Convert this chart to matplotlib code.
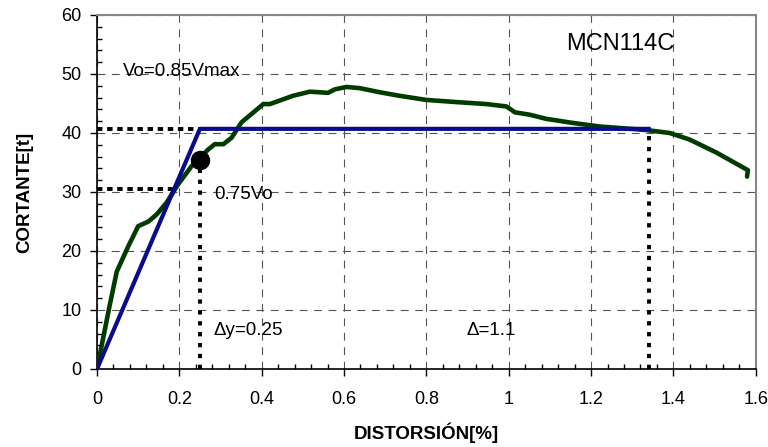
"""
Curva cortante - distorsion MCN114C
"""

import numpy as np
import matplotlib.pyplot as plt
from matplotlib.ticker import MultipleLocator

plt.rcParams['font.family'] = ['Liberation Sans', 'DejaVu Sans']

# curva experimental (envolvente)
dist = [0.0, 0.01, 0.03, 0.048, 0.076, 0.100, 0.125, 0.145, 0.169, 0.197,
        0.230, 0.270, 0.286, 0.307, 0.327, 0.351, 0.375, 0.404, 0.420, 0.444,
        0.476, 0.517, 0.541, 0.561, 0.578, 0.606, 0.638, 0.687, 0.735, 0.800,
        0.881, 0.946, 0.994, 1.005, 1.015, 1.051, 1.091, 1.156, 1.221, 1.334,
        1.391, 1.439, 1.504, 1.581, 1.579]
cort = [0.0, 3.5, 10.5, 16.5, 20.8, 24.2, 25.0, 26.2, 28.2, 31.3,
        34.4, 37.2, 38.1, 38.1, 39.2, 41.8, 43.2, 44.9, 44.9, 45.5,
        46.3, 47.0, 46.9, 46.8, 47.4, 47.8, 47.6, 46.9, 46.3, 45.6,
        45.2, 44.9, 44.5, 44.0, 43.5, 43.1, 42.4, 41.7, 41.1, 40.5,
        40.0, 38.9, 36.7, 33.7, 32.6]

# modelo bilineal
bil_x = [0.0, 0.25, 1.34]
bil_y = [0.0, 40.7, 40.7]

vo = 40.7
v075 = 30.5
dy = 0.25
du = 1.34
punto = (0.25, 35.5)


def plot_curva():
    fig = plt.figure(figsize=(7.68, 4.47), dpi=100)
    ax = fig.add_axes([0.1263, 0.1745, 0.8577, 0.792])

    ax.grid(True, which='major', color='#555555', linestyle=(0, (7, 6)), linewidth=0.8)
    ax.set_axisbelow(True)

    hdots = (0, (1.4, 1.2))
    vdots = (0, (1.1, 1.7))
    ax.plot([0, dy], [vo, vo], color='black', linestyle=hdots, linewidth=2.8, zorder=2)
    ax.plot([0, 0.187], [v075, v075], color='black', linestyle=hdots, linewidth=2.8, zorder=2)
    ax.plot([dy, dy], [0, punto[1]], color='black', linestyle=vdots, linewidth=2.8, zorder=2)
    ax.plot([du, du], [0, vo], color='black', linestyle=vdots, linewidth=2.8, zorder=2)

    ax.plot(dist, cort, color='#003c00', linewidth=3.3, zorder=3,
            solid_capstyle='round', solid_joinstyle='round')
    ax.plot(bil_x, bil_y, color='#0a0a8c', linewidth=3, zorder=4)
    ax.plot(*punto, 'o', color='black', markersize=13, zorder=5)

    ax.text(0.063, 50.5, 'Vo=0.85Vmax', fontsize=13.5, va='center')
    ax.text(0.285, 29.6, '0.75Vo', fontsize=13.5, va='center')
    ax.text(0.282, 6.6, '\u0394y=0.25', fontsize=13.5, va='center')
    ax.text(0.898, 6.6, '\u0394=1.1', fontsize=13.5, va='center')
    ax.text(1.27, 55.0, 'MCN114C', fontsize=17, va='center', ha='center')

    ax.set_xlim(0, 1.6)
    ax.set_ylim(0, 60)
    ax.xaxis.set_major_locator(MultipleLocator(0.2))
    ax.xaxis.set_minor_locator(MultipleLocator(0.04))
    ax.yaxis.set_major_locator(MultipleLocator(10))
    ax.yaxis.set_minor_locator(MultipleLocator(2))
    ax.set_xticks(np.arange(0, 1.61, 0.2))
    ax.set_xticklabels(['0', '0.2', '0.4', '0.6', '0.8', '1', '1.2', '1.4', '1.6'])
    ax.tick_params(which='major', direction='out', length=5, width=1, labelsize=13)
    ax.tick_params(which='minor', direction='in', length=3.5, width=1)
    ax.tick_params(axis='x', which='major', pad=10.5)
    ax.tick_params(axis='y', which='major', pad=6)

    for s in ['top', 'right']:
        ax.spines[s].set_color('#888888')
        ax.spines[s].set_linewidth(1.5)
    for s in ['left', 'bottom']:
        ax.spines[s].set_color('black')
        ax.spines[s].set_linewidth(1.2)

    ax.set_xlabel('DISTORSIÓN[%]', fontsize=13.5, fontweight='bold', labelpad=11)
    ax.set_ylabel('CORTANTE[t]', fontsize=13.5, fontweight='bold', labelpad=20)

    fig.savefig('out.png', dpi=100)


if __name__ == "__main__":
    plot_curva()
